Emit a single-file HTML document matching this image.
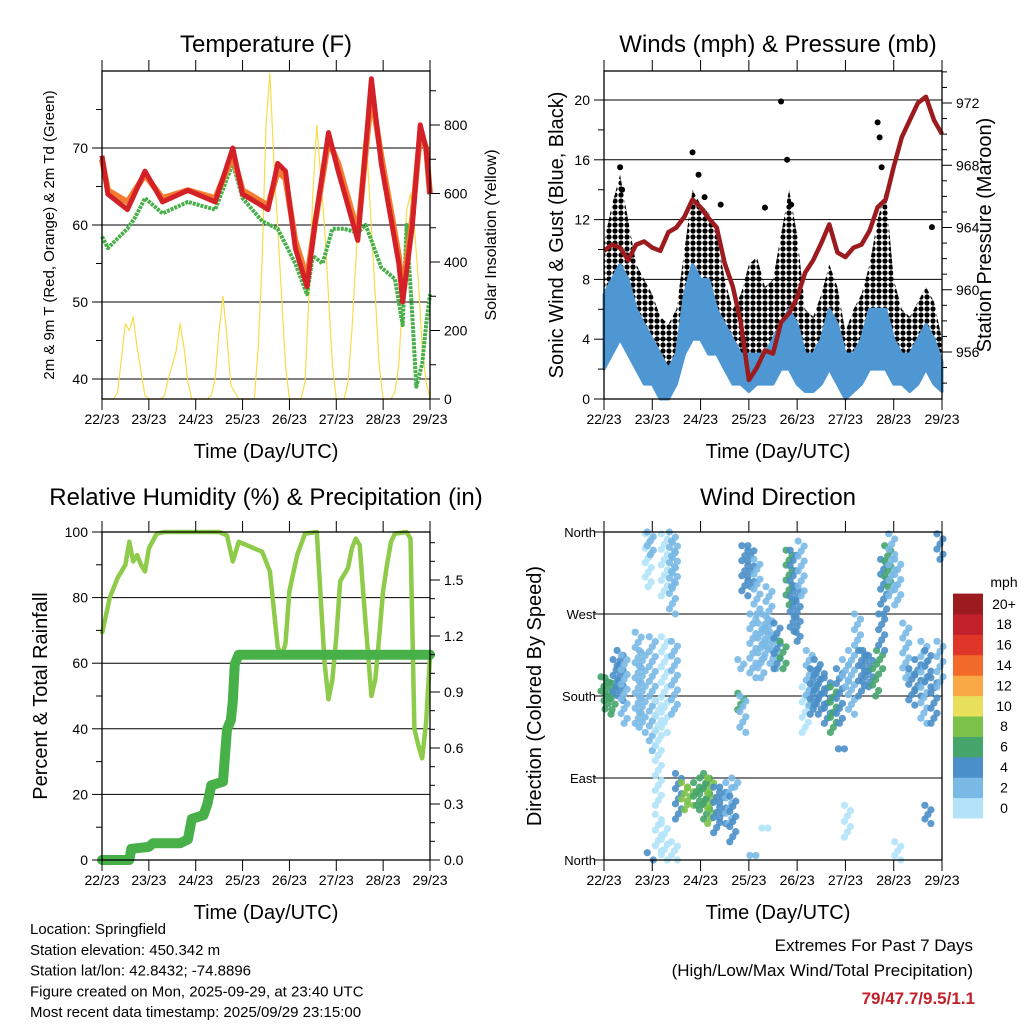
<!DOCTYPE html>
<html><head><meta charset="utf-8"><style>
html,body{margin:0;padding:0;background:#fff;}
svg{display:block;font-family:"Liberation Sans",Arial,sans-serif;}
</style></head><body>
<svg id="fig" width="1024" height="1024" viewBox="0 0 1024 1024" xmlns="http://www.w3.org/2000/svg">
<defs>
<pattern id="dots" width="6" height="6" patternUnits="userSpaceOnUse"><circle cx="3" cy="3" r="2.6" fill="#000"/></pattern>
</defs>
</svg>
<script>
// ---------- DATA ----------
const dayLabels = ["22/23","23/23","24/23","25/23","26/23","27/23","28/23","29/23"];
// Temperature panel
const tempHours = [0,3,13,22,31,44,58,67,72,82,85,90,94,99,105,109,116,121,131,138,143,152,154,159,163,166,168];
const temp2m = [69,64,62,67,63,64.5,63,70,64,62.5,62,68,67,57,52,60,72,67,58,79,68,55,50,60,73,70,64];
const temp9m = [68.5,64.5,63,66.5,63.5,64.5,63.5,69,64.5,63,62.5,67,66,58,53,60,71,68,59,77,69,56,51,61,72,70,64];
const dewHours = [0,3,13,17,22,31,44,58,67,72,82,90,99,105,108,113,118,124,131,135,138,143,150,154,156,159,161,164,166,168];
const dew2m = [58.5,57,59.5,61,63.5,61.5,63,62,68,63.5,60.5,59.5,55,51,56,55,59.5,59.5,59,60,58,54.5,53,47,60,48,39,42,47,51];
const solarStepHours = 2;
const solar = [0,0,0,0, 20,120,220,200,240,150,80,10, 0,0,0,0, 10,60,100,140,220,150,50,0, 0,0,0,0, 10,60,200,300,180,40,20,0, 0,0,0,0, 150,400,800,950,700,500,300,100, 0,0,0,0, 50,300,600,800,650,500,300,100, 0,0,0, 50,200,400,600,750,700,500,300,100, 0,0,0, 20,100,300,550,600,500,350,150,50,0];
const tempTicks = [40,50,60,70];
const solarTicks = [0,200,400,600,800];
// Winds panel (4-hour steps)
const windStepHours = 4;
const windLow = [2,3,4,3,2,1,1,0,0,1,3,4,4,3,3,2,1,1,0.5,1,1,1,2,2,1,0.5,0.5,1,2,1,0,0.5,1,2,2,2,1,1,0.5,1,2,1,0.5];
const windHigh = [7,8,9,8,6,5,4,3,2,3,7,9,8,8,6,5,4,3,3,3,3,4,5,6,5,3,3,4,6,5,3,3,4,6,6,6,4,3,3,4,5,4,2.5];
const gustHigh = [10.5,13,15,12,9,8,7,5.5,5,6,10,14,13,12.5,11,8,6,7,9,9.5,7.5,8,11,14,11,6,5.5,7,9,7.5,4.5,6,7,9,12,14,8,6,5.5,6.5,7.5,6.5,4];
const gustPeakHours = [8,9,44,47,50,58,80,88,91,93,136,137,138,163];
const gustPeaks = [15.5,14,16.5,15,13.5,13,12.8,19.9,16,13,18.5,17.5,15.5,11.5];
const pressure = [962.5,962.9,962.7,961.9,962.9,963.1,962.7,962.5,963.7,964,964.7,965.8,965.3,964.6,964,961.7,960.2,957.9,954.2,955,956.1,955.9,957.9,958.5,959.5,961.1,961.9,963,964.2,962.4,962.1,962.7,962.9,963.8,965.3,965.8,967.9,969.8,970.9,972,972.4,970.9,970];
const windTicks = [0,4,8,12,16,20];
const pressTicks = [956,960,964,968,972];
// RH panel
const rhHours = [0,4,8,12,14,16,18,20,22,24,28,32,40,50,60,64,67,70,74,78,82,86,90,92,94,96,100,104,110,112,114,116,118,120,122,124,126,128,130,132,134,136,138,140,142,144,146,148,150,156,158,159,160,162,164,166,168];
const rhValues = [69,80,86,90,97,91,93,90,88,95,99.5,100,100,100,100,99,91,97,96,95,94,88,65,62,66,82,93,99.5,100,80,60,49,55,68,85,87,89,95,98,96,80,65,50,55,68,82,90,97,99.5,100,98,70,40,35,31,42,62];
const rainHours = [0,14,15,24,26,40,44,46,52,54,56,62,64,66,67,68,70,168];
const rainValues = [0,0,0.06,0.07,0.09,0.09,0.11,0.22,0.24,0.30,0.40,0.42,0.70,0.75,0.85,1.05,1.10,1.10];
const rhTicks = [0,20,40,60,80,100];
const rainTicks = [0.0,0.3,0.6,0.9,1.2,1.5];
// Wind direction panel: observation clusters (hour, low deg, high deg, speed mph)
const dirHours = [0,2,4,6,8,10,17,19,22,23,23,24,27,27,30,30,30,34,35,35,35,37,40,43,46,49,51,53,56,59,62,64,65,68,68,69,70,73,74,76,74,78,80,80,82,84,86,89,92,94,96,98,100,102,104,106,108,111,114,117,118,120,121,123,126,128,130,132,135,137,138,139,141,143,146,146,150,153,156,159,161,161,164,167,167];
const dirLow = [175,160,165,185,175,150,150,140,300,335,0,120,60,10,290,140,0,270,300,160,0,45,55,60,60,55,45,40,30,40,40,20,80,210,165,140,290,300,200,270,5,200,220,35,230,210,210,210,280,250,240,290,140,170,160,170,160,150,140,150,122,190,25,160,230,180,190,195,180,210,230,270,300,290,280,0,200,170,180,150,190,40,150,330,190];
const dirHigh = [201,200,195,220,230,225,250,230,358,360,8,245,175,50,358,245,40,360,350,240,20,95,85,80,85,90,95,90,80,80,85,70,90,220,183,180,345,345,270,330,5,260,270,35,300,250,260,240,340,340,300,350,190,230,210,220,210,200,190,210,122,220,60,230,270,230,230,225,210,230,270,330,345,358,330,20,260,210,220,240,230,60,200,358,240];
const dirSpeed = [7,7,6,4,4,3,2,3,1,3,4,2,1,1,1,1,1,2,3,2,1,4,8,9,7,7,6,8,5,4,3,4,3,3,6,3,4,4,3,3,3,2,3,1,3,3,4,6,6,5,4,2,1,3,4,4,4,5,7,4,4,2,1,2,2,4,4,4,6,7,5,5,7,3,2,1,2,4,4,3,4,4,4,4,3];
const dirTickLabels = ["North","East","South","West","North"];
const cbarLabels = ["0","2","4","6","8","10","12","14","16","18","20+"];
const cbarColors = ["#b3e3f8","#7ab9e6","#4b8fc8","#45a56b","#7cc24a","#e8e05a","#f8a945","#f26a2a","#e0362a","#c2202b","#9b1b1e"];

// ---------- HELPERS ----------
const NS = "http://www.w3.org/2000/svg";
const svg = document.getElementById("fig");
function mk(tag, attrs, parent, text) {
  const el = document.createElementNS(NS, tag);
  for (const k in attrs) el.setAttribute(k, attrs[k]);
  if (text !== undefined) el.textContent = text;
  (parent || svg).appendChild(el);
  return el;
}
function txt(x, y, s, size, anchor, parent, extra) {
  const a = {x:x, y:y, "font-size":size, "text-anchor":anchor||"middle", fill:"#000"};
  if (extra) for (const k in extra) a[k] = extra[k];
  return mk("text", a, parent, s);
}
function linear(d0, d1, r0, r1) { return v => r0 + (v - d0) * (r1 - r0) / (d1 - d0); }
function group(name) {
  const g = mk("g", {});
  
  
  return g;
}
function polyPts(xs, ys) { return xs.map((x,i)=>x.toFixed(1)+","+ys[i].toFixed(1)).join(" "); }
function speedColor(s) { let i = Math.floor(s/2); if (i > 10) i = 10; if (i < 0) i = 0; return cbarColors[i]; }

function frame(g, L, T, R, B, xs) {
  for (let d = 0; d <= 7; d++) {
    const x = xs(d*24);
    mk("line", {x1:x, y1:T, x2:x, y2:T-11, stroke:"#000", "stroke-width":1}, g);
    mk("line", {x1:x, y1:B, x2:x, y2:B+11, stroke:"#000", "stroke-width":1}, g);
    const t = txt(x, B+25, dayLabels[d], 14, "middle", g);
    
    
  }
  mk("rect", {x:L, y:T, width:R-L, height:B-T, fill:"none", stroke:"#000", "stroke-width":1.3}, g);
}

// ================= PANEL 1: TEMPERATURE =================
(function(){
  const g = group("temperature-panel");
  const L=102, R=430, T=71, B=399;
  const xs = linear(0,168,L,R);
  const yT = linear(40,70,379,148);
  const yS = linear(0,800,399,125);
  tempTicks.forEach(v=>{ mk("line",{x1:L,y1:yT(v),x2:R,y2:yT(v),stroke:"#000","stroke-width":1},g); });
  const sx = solar.map((v,i)=>xs(i*solarStepHours)), sy = solar.map(v=>yS(v));
  const sl = mk("polyline",{points:polyPts(sx,sy),fill:"none",stroke:"#f7dc4a","stroke-width":1.2,"stroke-linejoin":"round"},g);
   
  const dl = mk("polyline",{points:polyPts(dewHours.map(xs),dew2m.map(yT)),fill:"none",stroke:"#47b049","stroke-width":4,"stroke-linejoin":"round","stroke-dasharray":"3 1"},g);
   
  const ol = mk("polyline",{points:polyPts(tempHours.map(xs),temp9m.map(yT)),fill:"none",stroke:"#f47c30","stroke-width":6,"stroke-linejoin":"round"},g);
   
  const rl = mk("polyline",{points:polyPts(tempHours.map(xs),temp2m.map(yT)),fill:"none",stroke:"#d42027","stroke-width":5,"stroke-linejoin":"round"},g);
   
  for (let v=40; v<=75; v+=5) {
    const y=yT(v); if (y<T) continue;
    mk("line",{x1:L,y1:y,x2:L-(v%10===0?10:6),y2:y,stroke:"#000"},g);
  }
  tempTicks.forEach(v=>{ const t=txt(L-14,yT(v)+5,String(v),14,"end",g);   });
  for (let v=0; v<=900; v+=100) { const y=yS(v); if (y<T) continue; mk("line",{x1:R,y1:y,x2:R+(v%200===0?10:6),y2:y,stroke:"#000"},g); }
  solarTicks.forEach(v=>{ const t=txt(R+14,yS(v)+5,String(v),14,"start",g);   });
  frame(g,L,T,R,B,xs);
  const ti = txt(266,52,"Temperature (F)",24,"middle",g);  
  const xl = txt(266,458,"Time (Day/UTC)",20,"middle",g);  
  const yl = txt(0,0,"2m & 9m T (Red, Orange) & 2m Td (Green)",15,"middle",g,{transform:"translate(54,235) rotate(-90)"});  
  const y2 = txt(0,0,"Solar Insolation (Yellow)",16,"middle",g,{transform:"translate(496,235) rotate(-90)"});  
})();

// ================= PANEL 2: WINDS =================
(function(){
  const g = group("winds-panel");
  const L=604, R=942, T=71, B=399;
  const xs = linear(0,168,L,R);
  const yW = linear(0,20,399,100);
  const yP = linear(956,972,352,103);
  windTicks.forEach(v=>{ mk("line",{x1:L,y1:yW(v),x2:R,y2:yW(v),stroke:"#000","stroke-width":1},g); });
  const wx = windLow.map((v,i)=>xs(i*windStepHours));
  const gp = polyPts(wx, gustHigh.map(yW)) + " " + polyPts(wx.slice().reverse(), windLow.slice().reverse().map(yW));
  const gb = mk("polygon",{points:gp,fill:"url(#dots)",stroke:"none"},g);
   
  gustPeakHours.forEach((h,i)=>{ const c=mk("circle",{cx:xs(h),cy:yW(gustPeaks[i]),r:3,fill:"#000"},g);   });
  const wp = polyPts(wx, windHigh.map(yW)) + " " + polyPts(wx.slice().reverse(), windLow.slice().reverse().map(yW));
  const wb = mk("polygon",{points:wp,fill:"#4f97d3",stroke:"#4f97d3","stroke-width":3,"stroke-linejoin":"round"},g);
   
  const pl = mk("polyline",{points:polyPts(wx, pressure.map(yP)),fill:"none",stroke:"#9b1b1e","stroke-width":4.5,"stroke-linejoin":"round"},g);
   
  for (let v=0; v<=21; v+=2) { mk("line",{x1:L,y1:yW(v),x2:L-(v%4===0?10:6),y2:yW(v),stroke:"#000"},g); }
  windTicks.forEach(v=>{ const t=txt(L-14,yW(v)+5,String(v),14,"end",g);   });
  for (let v=954; v<=974; v+=1) { const y=yP(v); if (y<T||y>B) continue; mk("line",{x1:R,y1:y,x2:R+(v%4===0?10:5),y2:y,stroke:"#000"},g); }
  pressTicks.forEach(v=>{ const t=txt(R+14,yP(v)+5,String(v),14,"start",g);   });
  frame(g,L,T,R,B,xs);
  const ti = txt(778,52,"Winds (mph) & Pressure (mb)",24,"middle",g);  
  const xl = txt(778,458,"Time (Day/UTC)",20,"middle",g);  
  const yl = txt(0,0,"Sonic Wind & Gust (Blue, Black)",20,"middle",g,{transform:"translate(563,235) rotate(-90)"});  
  const y2 = txt(0,0,"Station Pressure (Maroon)",20,"middle",g,{transform:"translate(991,235) rotate(-90)"});  
})();

// ================= PANEL 3: RH & PRECIP =================
(function(){
  const g = group("humidity-panel");
  const L=102, R=430, T=532, B=860;
  const xs = linear(0,168,L,R);
  const yR = linear(0,100,860,532);
  const yP = linear(0,1.5,860,580);
  rhTicks.forEach(v=>{ mk("line",{x1:L,y1:yR(v),x2:R,y2:yR(v),stroke:"#000","stroke-width":1},g); });
  const rl = mk("polyline",{points:polyPts(rhHours.map(xs),rhValues.map(yR)),fill:"none",stroke:"#8fcb4a","stroke-width":4.5,"stroke-linejoin":"round"},g);
   
  const pl = mk("polyline",{points:polyPts(rainHours.map(xs),rainValues.map(yP)),fill:"none",stroke:"#47b049","stroke-width":10,"stroke-linejoin":"round","stroke-linecap":"round"},g);
   
  for (let v=0; v<=100; v+=10) { mk("line",{x1:L,y1:yR(v),x2:L-(v%20===0?10:6),y2:yR(v),stroke:"#000"},g); }
  rhTicks.forEach(v=>{ const t=txt(L-14,yR(v)+5,String(v),14,"end",g);   });
  for (let k=0; k<=17; k++) { const v=k*0.1; mk("line",{x1:R,y1:yP(v),x2:R+(k%3===0?10:5),y2:yP(v),stroke:"#000"},g); }
  rainTicks.forEach(v=>{ const t=txt(R+14,yP(v)+5,v.toFixed(1),14,"start",g);   });
  frame(g,L,T,R,B,xs);
  const ti = txt(266,505,"Relative Humidity (%) & Precipitation (in)",24,"middle",g);  
  const xl = txt(266,919,"Time (Day/UTC)",20,"middle",g);  
  const yl = txt(0,0,"Percent & Total Rainfall",20,"middle",g,{transform:"translate(47,696) rotate(-90)"});  
})();

// ================= PANEL 4: WIND DIRECTION =================
(function(){
  const g = group("wind-direction-panel");
  const L=604, R=942, T=532, B=860;
  const xs = linear(0,168,L,R);
  const yD = linear(0,360,860,532);
  [0,90,180,270,360].forEach(v=>{ mk("line",{x1:L,y1:yD(v),x2:R,y2:yD(v),stroke:"#000","stroke-width":1},g); });
  dirHours.forEach((h,i)=>{
    const y0 = yD(dirHigh[i]), y1 = yD(dirLow[i]);
    const n = Math.max(1, Math.round((y1 - y0) / 5));
    for (let k = 0; k <= n; k++) {
      const dx = (k % 3 === 0) ? -3 : (k % 3 === 1 ? 3 : 0);
      const c = mk("circle",{cx:xs(h)+dx, cy:y0 + (y1 - y0) * k / n, r:3.6, fill:speedColor(dirSpeed[i]), "fill-opacity":0.9},g);
      
      
    }
  });
  [0,90,180,270,360].forEach((v,i)=>{
    mk("line",{x1:L,y1:yD(v),x2:L-10,y2:yD(v),stroke:"#000"},g);
    const t=txt(L-8,yD(v)+5,dirTickLabels[i],13,"end",g);  
  });
  frame(g,L,T,R,B,xs);
  const ti = txt(778,505,"Wind Direction",24,"middle",g);  
  const xl = txt(778,919,"Time (Day/UTC)",20,"middle",g);  
  const yl = txt(0,0,"Direction (Colored By Speed)",20,"middle",g,{transform:"translate(541,696) rotate(-90)"});  
  const cb = group("speed-colorbar");
  const bh = 20.4;
  cbarColors.forEach((c,i)=>{
    const y = 818 - (i+1)*bh;
    const r = mk("rect",{x:953,y:y,width:30,height:bh+0.5,fill:c},cb);
     
    const t = txt(1004,y+bh/2+5,cbarLabels[i],14,"middle",cb);  
  });
  const u = txt(1004,587,"mph",14,"middle",cb);  
})();

// ================= FOOTER =================
(function(){
  const g = group("station-info");
  const lines = ["Location: Springfield","Station elevation: 450.342 m","Station lat/lon: 42.8432; -74.8896","Figure created on Mon, 2025-09-29, at 23:40 UTC","Most recent data timestamp: 2025/09/29 23:15:00"];
  lines.forEach((s,i)=>{ const t=txt(30,934+i*20.8,s,15,"start",g);   });
  const e = group("extremes-summary");
  const a=txt(973,951,"Extremes For Past 7 Days",17,"end",e);  
  const b=txt(973,976,"(High/Low/Max Wind/Total Precipitation)",17,"end",e);  
  const c=txt(975,1004,"79/47.7/9.5/1.1",17,"end",e,{fill:"#c2202b","font-weight":"bold"});  
})();
</script>
</body></html>
